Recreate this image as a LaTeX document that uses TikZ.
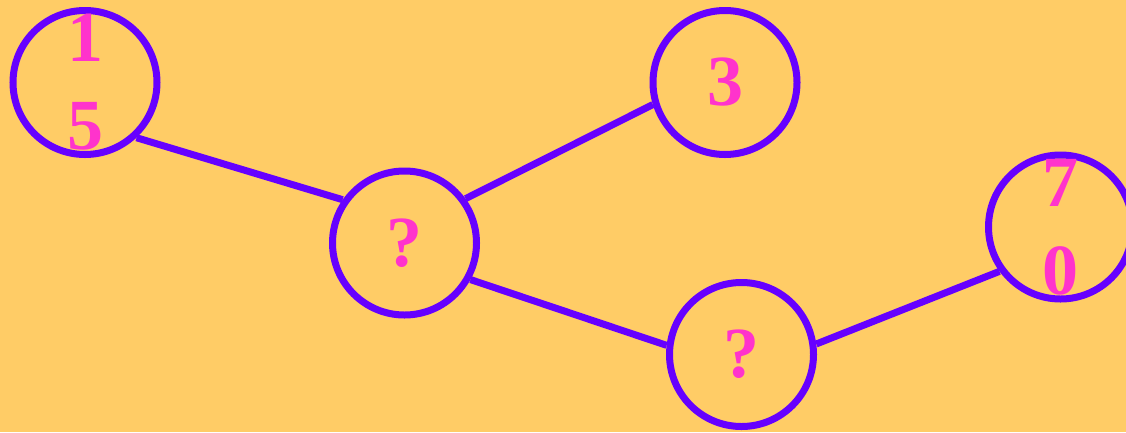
\documentclass[tikz,border=0pt]{standalone}
\usepackage{fontspec}
\setmainfont{Liberation Serif}
\usepackage{tikz}
\usepackage{xcolor}
\definecolor{sand}{RGB}{255,204,102}
\definecolor{violet}{RGB}{102,0,255}
\definecolor{pinkish}{RGB}{255,51,204}
\def\big{\fontsize{72}{88}\selectfont\bfseries}

\begin{document}
\begin{tikzpicture}[x=1pt, y=-1pt,
	ball/.style={circle, draw=violet, line width=7pt, minimum size=144pt, inner sep=0pt, text=pinkish, font=\big, align=center},
	edge/.style={violet, line width=7pt}]
	\fill[sand] (0,0) rectangle (1126,432);
	\useasboundingbox (0,0) rectangle (1126,432);
	\node[ball] (n15) at (85,82.5) {1\\5};
	\node[ball] (n3) at (725,82.5) {3};
	\node[ball] (q1) at (404.5,243) {?};
	\node[ball] (q2) at (741.5,354.5) {?};
	\node[ball] (n70) at (1060.5,227) {7\\0};
	\draw[edge] (n15.-47) -- (q1.145);
	\draw[edge] (q1.36) -- (n3.-163);
	\draw[edge] (q1.-29) -- (q2.173);
	\draw[edge] (q2.8) -- (n70.-144);
\end{tikzpicture}
\end{document}
